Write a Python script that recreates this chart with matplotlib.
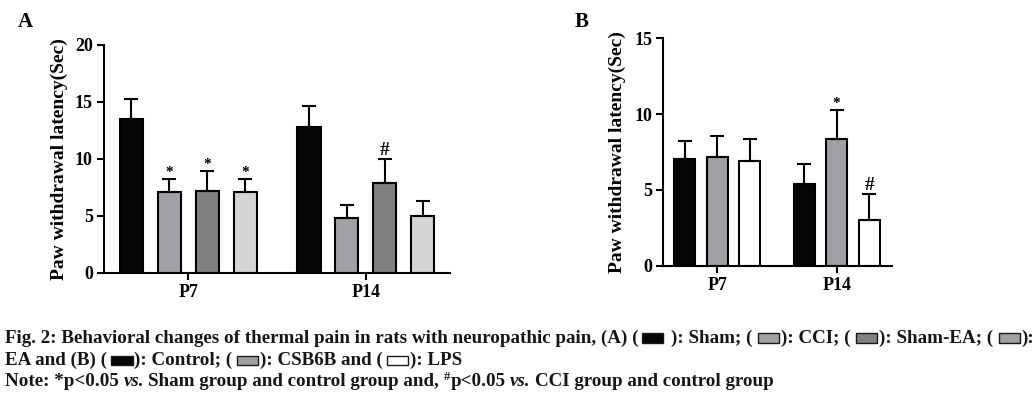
import matplotlib
matplotlib.use("Agg")
import matplotlib.pyplot as plt
import numpy as np
from matplotlib.patches import Rectangle

plt.rcParams['font.family'] = ['Liberation Serif', 'DejaVu Serif']
plt.rcParams['font.weight'] = 'bold'

W, H = 1036, 395

groups = ["P7", "P14"]

# panel A: Sham, CCI, Sham-EA, EA
a_series = ["Sham", "CCI", "Sham-EA", "EA"]
a_p7 = [13.45, 7.10, 7.19, 7.10]
a_p14 = [12.81, 4.81, 7.89, 4.99]
a_p7_sem = [1.75, 1.11, 1.75, 1.11]
a_p14_sem = [1.83, 1.12, 2.11, 1.29]
a_p7_sig = ["", "*", "*", "*"]
a_p14_sig = ["", "", "#", ""]
a_yticks = [0, 5, 10, 15, 20]

# panel B: Control, CSB6B, LPS
b_series = ["Control", "CSB6B", "LPS"]
b_p7 = [7.02, 7.19, 6.93]
b_p14 = [5.41, 8.34, 3.01]
b_p7_sem = [1.21, 1.36, 1.41]
b_p14_sem = [1.28, 1.93, 1.72]
b_p7_sig = ["", "", ""]
b_p14_sig = ["", "*", "#"]
b_yticks = [0, 5, 10, 15]

color_map = {
    "Sham": "#060606",
    "CCI": "#a0a1a5",
    "Sham-EA": "#808080",
    "EA": "#d5d5d5",
    "Control": "#060606",
    "CSB6B": "#9fa0a4",
    "LPS": "#ffffff",
}

sig_size = {"*": 11, "#": 14}


def draw_panel(ax, series, means, sems, sigs, step, width, yticks, xlim):
    n = len(series)
    for i, name in enumerate(series):
        x = np.arange(len(groups)) + (i - (n - 1) / 2) * step
        h = np.array([m[i] for m in means])
        e = np.array([s[i] for s in sems])
        ax.bar(x, h, width, color=color_map[name], edgecolor="black",
               linewidth=1.5, zorder=2, label=name)
        ax.errorbar(x, h, yerr=[np.zeros_like(e), e], fmt="none",
                    ecolor="black", elinewidth=1.5, capsize=5, capthick=1.5,
                    zorder=3)
        for xi, top, sg in zip(x, h + e, [s[i] for s in sigs]):
            if sg:
                ax.annotate(sg, (xi, top), xytext=(0, 0),
                            textcoords="offset points", ha="center",
                            va="bottom", fontsize=sig_size[sg])
    ax.set_xticks(range(len(groups)), groups)
    ax.set_yticks(yticks)
    ax.set_ylim(yticks[0], yticks[-1])
    ax.set_xlim(*xlim)
    ax.spines[["top", "right"]].set_visible(False)
    for s in ["left", "bottom"]:
        ax.spines[s].set_linewidth(1.5)
    ax.tick_params(axis="both", width=1.5, length=5, labelsize=13, pad=3)
    ax.set_ylabel("Paw withdrawal latency(Sec)", fontsize=14,
                  fontweight="bold")


fig = plt.figure(figsize=(W / 100, H / 100), dpi=100)

ax_a = fig.add_axes([104 / W, 1 - 272.5 / H, 346 / W, 227.7 / H])
draw_panel(ax_a, a_series, [a_p7, a_p14], [a_p7_sem, a_p14_sem],
           [a_p7_sig, a_p14_sig], 0.2135, 0.13, a_yticks, (-0.475, 1.474))
ax_a.yaxis.set_label_coords((68 - 104) / 346, 0.5)

ax_b = fig.add_axes([663.3 / W, 1 - 265.7 / H, 229 / W, 227.4 / H])
draw_panel(ax_b, b_series, [b_p7, b_p14], [b_p7_sem, b_p14_sem],
           [b_p7_sig, b_p14_sig], 0.273, 0.175, b_yticks, (-0.452, 1.466))
ax_b.yaxis.set_label_coords((625.5 - 663.3) / 229, 0.5)

fig.text(25 / W, 1 - 26.7 / H, "A", fontsize=15, ha="center", va="baseline")
fig.text(581.7 / W, 1 - 27.3 / H, "B", fontsize=15, ha="center", va="baseline")

# caption, drawn piece by piece so the little legend boxes sit inline
renderer = fig.canvas.get_renderer()
cap_fs = 13.7
cap_color = "#161616"


def caption_line(y_px, pieces):
    x = 5
    for p in pieces:
        kind = p[0]
        if kind == "box":
            _, name, gl, gr = p
            x += gl
            fig.add_artist(Rectangle((x / W, 1 - y_px / H), 21 / W, 9.5 / H,
                                     transform=fig.transFigure,
                                     facecolor=color_map[name],
                                     edgecolor="#1a1a1a", linewidth=1.0))
            x += 21 + gr
        elif kind == "gap":
            x += p[1]
        else:
            style = "italic" if kind == "it" else "normal"
            fs = cap_fs * 0.65 if kind == "sup" else cap_fs
            yy = y_px - 6 if kind == "sup" else y_px
            t = fig.text(x / W, 1 - yy / H, p[1], fontsize=fs, style=style,
                         color=cap_color, ha="left", va="baseline")
            x += t.get_window_extent(renderer).width + 0.5


caption_line(342.7, [
    ("t", "Fig. 2: Behavioral changes of thermal pain in rats with neuropathic pain, (A) ("),
    ("box", "Sham", 3, 8), ("t", "): Sham; ("),
    ("box", "CCI", 5, 2), ("t", "): CCI; ("),
    ("box", "Sham-EA", 5, 2), ("t", "): Sham-EA; ("),
    ("box", "CCI", 5, 2), ("t", "):"),
])
caption_line(365, [
    ("t", "EA and (B) ("), ("box", "Control", 4, 2), ("t", "): Control; ("),
    ("box", "CSB6B", 4, 2), ("t", "): CSB6B and ("),
    ("box", "LPS", 4, 2), ("t", "): LPS"),
])
caption_line(386, [
    ("t", "Note: *p<0.05"), ("gap", 4), ("it", "vs."), ("gap", 4),
    ("t", "Sham group and control group and,"), ("gap", 4),
    ("sup", "#"), ("t", "p<0.05"), ("gap", 4), ("it", "vs."), ("gap", 4),
    ("t", "CCI group and control group"),
])

fig.savefig("out.png", dpi=100)
